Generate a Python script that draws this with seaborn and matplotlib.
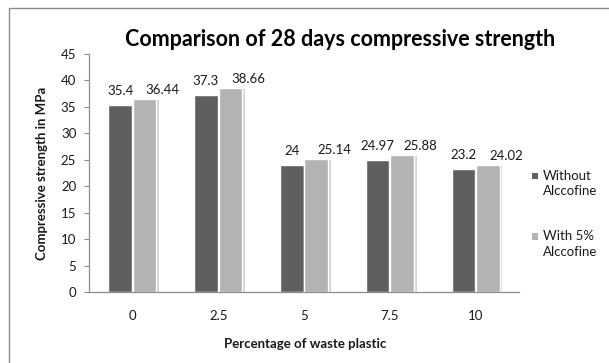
import matplotlib
matplotlib.use("Agg")
import matplotlib.pyplot as plt
import matplotlib.patheffects as pe
from matplotlib.patches import Rectangle
import seaborn as sns
import pandas as pd

# Data: 28-day compressive strength (MPa) vs waste plastic percentage
plastic_pct = ["0", "2.5", "5", "7.5", "10"]
without_alccofine = [35.4, 37.3, 24, 24.97, 23.2]
with_alccofine = [36.44, 38.66, 25.14, 25.88, 24.02]
series_names = ["Without\nAlccofine", "With 5%\nAlccofine"]
y_ticks = [0, 5, 10, 15, 20, 25, 30, 35, 40, 45]
palette = ["#5f5f5f", "#b3b3b3"]

df = pd.DataFrame({
    "pct": plastic_pct * 2,
    "strength": without_alccofine + with_alccofine,
    "series": [series_names[0]] * 5 + [series_names[1]] * 5,
})

sns.set_style("white")
plt.rcParams["font.family"] = ["Lato", "DejaVu Sans"]
text_color = "#1a1a1a"
axis_color = "#8c8c8c"
W, H = 609, 363

fig = plt.figure(figsize=(W / 100, H / 100), dpi=100)
ax = fig.add_axes([89.5 / W, 1 - 292 / H, 429 / W, 238 / H])

sns.barplot(data=df, x="pct", y="strength", hue="series", order=plastic_pct,
            hue_order=series_names, palette=palette,
            width=0.57, gap=0.04, saturation=1, ax=ax, legend=False)

shadow = [pe.SimplePatchShadow(offset=(2.0, -0.8), shadow_rgbFace="#c4c4c4", alpha=0.7),
          pe.Normal()]
# value labels: first series centred above its bar, second series offset to the right
label_offsets = [(0, 7.2), (13, 3.6)]
for c_i, cont in enumerate(ax.containers):
    for bar, val in zip(cont, cont.datavalues):
        bar.set_path_effects(shadow)
        ax.annotate(f"{val:g}",
                    (bar.get_x() + bar.get_width() / 2, bar.get_height()),
                    xytext=label_offsets[c_i], textcoords="offset points",
                    ha="center", va="baseline", fontsize=9.5, color=text_color)

ax.set_ylim(0, 45)
ax.set_yticks(y_ticks)
ax.set_xlim(-0.5, 4.5)
ax.set_xticks([i - 0.5 for i in range(6)], minor=True)
ax.tick_params(axis="x", which="major", length=0, pad=13, labelsize=9.5, labelcolor=text_color)
ax.tick_params(axis="x", which="minor", length=3.5, width=0.8, color=axis_color, direction="out")
ax.tick_params(axis="y", length=3.5, width=0.8, color=axis_color, direction="out",
               labelsize=9.5, labelcolor=text_color, pad=6, left=True)

for side in ["top", "right"]:
    ax.spines[side].set_visible(False)
for side in ["left", "bottom"]:
    ax.spines[side].set_color(axis_color)
    ax.spines[side].set_linewidth(0.9)

ax.set_xlabel("")
ax.set_ylabel("")
fig.text(305 / W, 1 - 344 / H, "Percentage of waste plastic", ha="center", va="center",
         fontsize=9.5, fontweight="bold", color=text_color)
fig.text(42 / W, 1 - 173 / H, "Compressive strength in MPa", ha="center", va="center",
         rotation=90, fontsize=9.5, fontweight="bold", color=text_color)
fig.text(340 / W, 1 - 40 / H, "Comparison of 28 days compressive strength",
         ha="center", va="center", fontsize=15.5, fontweight="bold", color="#000000")

# legend: square swatch beside the first line of each two-line label
legend_rows = [176, 236.5]
for name, color, y in zip(series_names, palette, legend_rows):
    fig.add_artist(Rectangle((531.7 / W, 1 - (y + 3.3) / H), 6.5 / W, 6.5 / H,
                             transform=fig.transFigure, facecolor=color, edgecolor="none"))
    fig.text(542.7 / W, 1 - (y - 6) / H, name, ha="left", va="top", fontsize=9.5,
             linespacing=1.3, color=text_color)

# chart-area frame
fig.add_artist(Rectangle((9 / W, -0.1), 1.2, 1 - 7.5 / H + 0.1, transform=fig.transFigure,
                         fill=False, edgecolor="#8a8a8a", linewidth=1.0))

fig.savefig("out.png", dpi=100)
